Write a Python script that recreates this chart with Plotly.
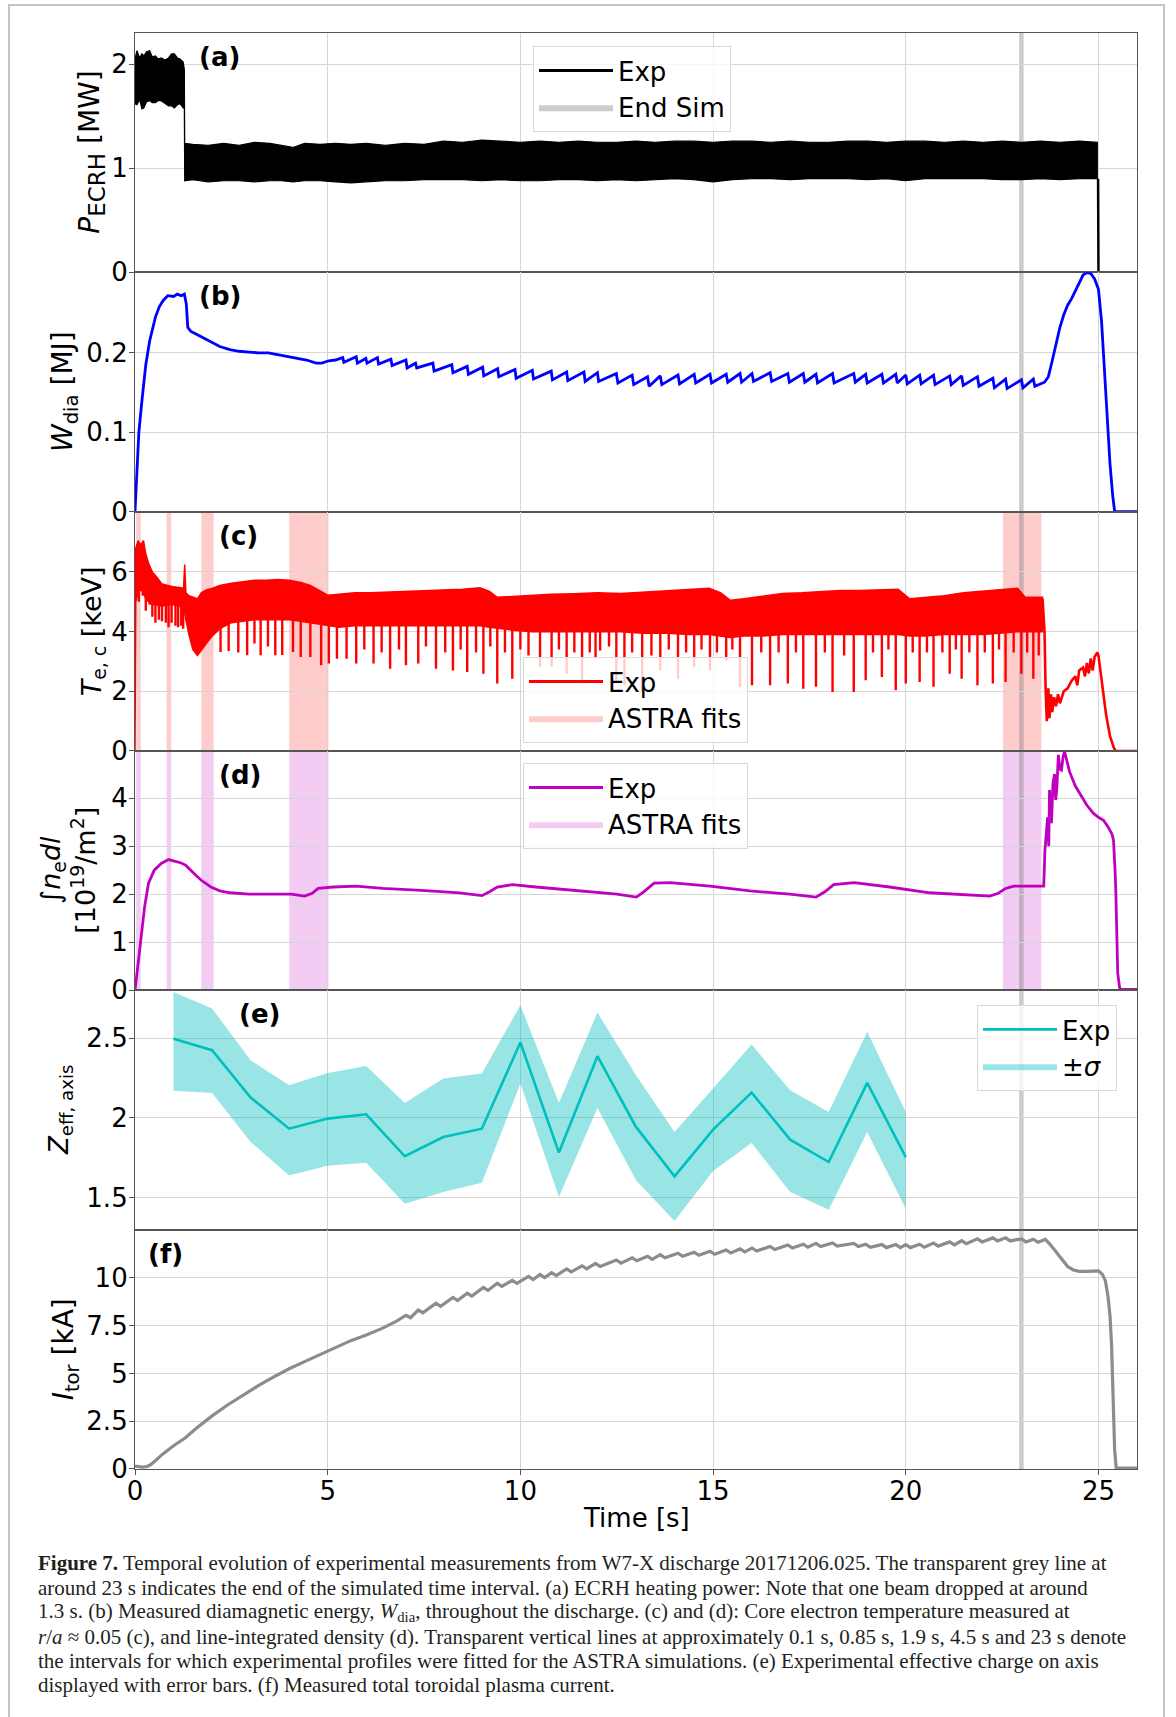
import numpy as np
import plotly.graph_objects as go
from plotly.subplots import make_subplots

# ---------------- data ----------------
# (a) ECRH power envelope of the dense signal [MW]
a_t  = [0.00, 0.05, 0.12, 0.18, 0.23, 0.30, 0.38, 0.45, 0.53, 0.60, 0.68, 0.78, 0.87, 0.95, 1.02, 1.10, 1.17, 1.25, 1.28,
        1.29, 1.50, 1.90, 2.30, 2.70, 3.10, 3.50, 3.80, 4.10, 4.40, 4.80, 5.20, 5.60, 6.00, 6.50, 7.00, 7.50, 8.00,
        8.50, 9.00, 9.50, 10.0, 10.5, 11.0, 11.5, 12.0, 12.5, 13.0, 13.5, 14.0, 14.5, 15.0, 15.5, 16.0, 16.5, 17.0,
        17.5, 18.0, 18.5, 19.0, 19.5, 20.0, 20.5, 21.0, 21.5, 22.0, 22.5, 23.0, 23.5, 24.0, 24.5, 24.97]
a_hi = [2.05, 2.13, 2.06, 2.10, 2.08, 2.12, 2.13, 2.07, 2.08, 2.05, 2.06, 2.04, 2.06, 2.10, 2.10, 2.06, 2.05, 2.02, 1.95,
        1.24, 1.23, 1.22, 1.24, 1.22, 1.25, 1.24, 1.22, 1.20, 1.24, 1.23, 1.24, 1.23, 1.24, 1.22, 1.24, 1.23, 1.26,
        1.25, 1.27, 1.26, 1.25, 1.26, 1.25, 1.26, 1.25, 1.25, 1.26, 1.25, 1.26, 1.26, 1.25, 1.26, 1.26, 1.25, 1.26,
        1.25, 1.25, 1.26, 1.26, 1.25, 1.26, 1.26, 1.25, 1.26, 1.25, 1.26, 1.25, 1.26, 1.25, 1.26, 1.25]
a_lo = [1.62, 1.61, 1.66, 1.57, 1.58, 1.64, 1.65, 1.63, 1.63, 1.65, 1.65, 1.62, 1.60, 1.60, 1.58, 1.61, 1.62, 1.58, 1.58,
        0.88, 0.89, 0.87, 0.88, 0.88, 0.87, 0.88, 0.88, 0.87, 0.88, 0.88, 0.87, 0.86, 0.87, 0.88, 0.88, 0.89, 0.89,
        0.89, 0.88, 0.89, 0.88, 0.88, 0.89, 0.89, 0.88, 0.89, 0.88, 0.89, 0.90, 0.89, 0.87, 0.89, 0.90, 0.90, 0.89,
        0.90, 0.90, 0.90, 0.89, 0.90, 0.88, 0.90, 0.90, 0.90, 0.90, 0.89, 0.89, 0.90, 0.89, 0.90, 0.90]
a_tail_t = [24.99, 25.00, 26.0]
a_tail_v = [0.90, 0.00, 0.00]

# (b) diamagnetic energy [MJ]
b_t = [0.00, 0.05, 0.10, 0.18, 0.28, 0.38, 0.53, 0.63, 0.73, 0.85, 1.00, 1.10, 1.20, 1.28, 1.33, 1.37, 1.45, 1.57,
       1.80, 1.97, 2.20, 2.46, 2.70, 2.96, 3.20, 3.46, 3.70, 3.95, 4.20, 4.45, 4.70, 4.85, 5.03, 5.20,
       5.39, 5.42, 5.74, 5.77, 5.99, 6.02, 6.29, 6.32, 6.64, 6.67, 7.03, 7.06, 7.28, 7.31, 7.73, 7.76,
       8.22, 8.25, 8.62, 8.65, 9.02, 9.05, 9.41, 9.44, 9.86, 9.89, 10.31, 10.34, 10.80, 10.83, 11.20, 11.23,
       11.65, 11.68, 12.00, 12.03, 12.49, 12.53, 12.90, 12.94, 13.30, 13.34, 13.63, 13.67, 14.09, 14.13,
       14.51, 14.55, 14.92, 14.96, 15.34, 15.38, 15.70, 15.74, 16.01, 16.05, 16.48, 16.52, 16.94, 16.98,
       17.34, 17.38, 17.67, 17.71, 18.10, 18.14, 18.65, 18.69, 18.96, 19.00, 19.38, 19.42, 19.74, 19.78,
       20.00, 20.04, 20.36, 20.40, 20.72, 20.76, 21.14, 21.18, 21.45, 21.49, 21.86, 21.90, 22.26, 22.30,
       22.59, 22.63, 23.00, 23.04, 23.31, 23.35, 23.60, 23.70, 23.80, 23.90, 24.00, 24.10, 24.20, 24.30,
       24.40, 24.50, 24.60, 24.70, 24.80, 24.90, 25.00, 25.08, 25.15, 25.22, 25.30, 25.37, 25.42, 26.0]
b_v = [0.000, 0.060, 0.100, 0.140, 0.185, 0.215, 0.245, 0.258, 0.266, 0.272, 0.271, 0.274, 0.272, 0.274, 0.262, 0.232, 0.227, 0.224,
       0.218, 0.213, 0.208, 0.204, 0.202, 0.201, 0.200, 0.200, 0.198, 0.196, 0.194, 0.191, 0.187, 0.187, 0.190, 0.191,
       0.194, 0.188, 0.195, 0.187, 0.193, 0.187, 0.194, 0.186, 0.192, 0.184, 0.191, 0.181, 0.187, 0.181, 0.187, 0.177,
       0.185, 0.175, 0.183, 0.173, 0.182, 0.171, 0.180, 0.170, 0.179, 0.168, 0.178, 0.167, 0.177, 0.166, 0.176, 0.165,
       0.176, 0.164, 0.175, 0.164, 0.174, 0.162, 0.172, 0.160, 0.170, 0.158, 0.171, 0.160, 0.172, 0.161,
       0.173, 0.162, 0.173, 0.162, 0.173, 0.163, 0.174, 0.163, 0.174, 0.164, 0.175, 0.164, 0.174, 0.163,
       0.174, 0.163, 0.173, 0.162, 0.174, 0.162, 0.174, 0.163, 0.173, 0.162, 0.173, 0.162, 0.173, 0.162,
       0.172, 0.161, 0.172, 0.161, 0.172, 0.160, 0.171, 0.160, 0.171, 0.159, 0.170, 0.158, 0.168, 0.156,
       0.167, 0.155, 0.166, 0.156, 0.167, 0.158, 0.163, 0.170, 0.190, 0.210, 0.232, 0.248, 0.260, 0.268,
       0.278, 0.290, 0.298, 0.301, 0.300, 0.293, 0.280, 0.240, 0.180, 0.120, 0.060, 0.020, 0.000, 0.000]

# (c) core electron temperature [keV]: band envelope, sawtooth crash minima, post-collapse trace
c_t  = [0.00, 0.02, 0.08, 0.15, 0.22, 0.28, 0.35, 0.45, 0.55, 0.70, 0.85, 1.00, 1.15, 1.26, 1.29, 1.32, 1.40, 1.50,
        1.62, 1.72, 1.85, 2.00, 2.20, 2.50, 2.80, 3.10, 3.40, 3.70, 4.00, 4.30, 4.55, 4.75, 5.00, 5.30, 5.70,
        6.10, 6.50, 7.00, 7.50, 8.00, 8.50, 8.95, 9.20, 9.40, 9.80, 10.30, 10.80, 11.40, 12.00, 12.60, 13.20,
        13.80, 14.40, 14.90, 15.20, 15.45, 15.80, 16.30, 16.80, 17.30, 17.80, 18.30, 18.80, 19.30, 19.80,
        20.10, 20.50, 21.00, 21.50, 22.00, 22.50, 22.90, 23.10, 23.55]
c_hi = [0.00, 6.80, 7.05, 6.90, 7.05, 6.60, 6.30, 6.00, 5.85, 5.60, 5.55, 5.50, 5.48, 5.45, 6.25, 5.30, 5.20, 5.15,
        5.10, 5.30, 5.40, 5.45, 5.55, 5.62, 5.68, 5.72, 5.72, 5.75, 5.72, 5.65, 5.55, 5.40, 5.22, 5.25, 5.30,
        5.30, 5.32, 5.35, 5.35, 5.38, 5.42, 5.47, 5.35, 5.15, 5.18, 5.20, 5.25, 5.27, 5.30, 5.28, 5.32,
        5.36, 5.40, 5.45, 5.30, 5.05, 5.10, 5.20, 5.28, 5.30, 5.35, 5.38, 5.38, 5.40, 5.42,
        5.10, 5.15, 5.20, 5.30, 5.35, 5.40, 5.45, 5.15, 5.15]
c_lo = [0.00, 5.00, 5.30, 5.40, 5.30, 5.10, 5.00, 4.90, 4.90, 4.85, 4.90, 4.90, 4.85, 4.80, 4.60, 4.40, 3.90, 3.40,
        3.20, 3.35, 3.60, 3.85, 4.10, 4.30, 4.35, 4.40, 4.40, 4.40, 4.40, 4.35, 4.30, 4.25, 4.20, 4.15, 4.20,
        4.20, 4.20, 4.20, 4.20, 4.20, 4.20, 4.20, 4.15, 4.10, 4.05, 4.00, 4.00, 4.00, 4.00, 4.00, 3.95,
        3.95, 3.90, 3.90, 3.85, 3.80, 3.85, 3.85, 3.90, 3.90, 3.90, 3.90, 3.90, 3.90, 3.90,
        3.85, 3.85, 3.90, 3.90, 3.90, 3.95, 4.00, 4.00, 4.00]
c_spk_t = [0.10, 0.20, 0.28, 0.38, 0.45, 0.53, 0.62, 0.70, 0.80, 0.87, 0.95, 1.05, 1.12, 1.20, 1.25,
           2.22, 2.43, 2.68, 2.91, 3.10, 3.26, 3.45, 3.64, 3.82, 4.10, 4.30, 4.55, 4.83, 5.03, 5.24, 5.49,
           5.74, 5.95, 6.19, 6.40, 6.62, 6.85, 7.03, 7.35, 7.55, 7.81, 8.05, 8.25, 8.45, 8.62, 8.85, 9.04,
           9.22, 9.40, 9.60, 9.79, 10.00, 10.21, 10.51, 10.81, 11.00, 11.20, 11.40, 11.60, 11.80, 11.95,
           12.07, 12.30, 12.49, 12.70, 12.90, 13.16, 13.40, 13.63, 13.85, 14.09, 14.30, 14.51, 14.70, 14.92,
           15.10, 15.34, 15.50, 15.70, 16.01, 16.25, 16.48, 16.70, 16.94, 17.15, 17.34, 17.67, 17.90, 18.10,
           18.40, 18.65, 18.96, 19.15, 19.38, 19.55, 19.74, 20.00, 20.18, 20.36, 20.55, 20.72, 20.95, 21.14,
           21.30, 21.45, 21.65, 21.86, 22.05, 22.26, 22.42, 22.59, 22.80, 23.00, 23.15, 23.31, 23.45]
c_spk_v = [5.00, 5.20, 4.70, 4.90, 4.50, 4.30, 4.40, 4.35, 4.30, 4.15, 4.30, 4.20, 4.15, 4.20, 4.10,
           3.32, 3.35, 3.30, 3.21, 3.60, 3.21, 3.50, 3.21, 3.22, 3.32, 3.15, 3.15, 2.87, 2.93, 3.09, 3.09,
           2.93, 3.40, 2.93, 3.30, 2.76, 3.40, 2.87, 2.93, 3.50, 2.76, 3.30, 2.70, 3.40, 2.65, 3.30, 2.59,
           3.50, 2.26, 3.30, 2.42, 3.40, 3.20, 2.82, 2.82, 3.40, 2.59, 3.30, 2.26, 3.30, 3.10,
           3.37, 3.50, 2.37, 2.20, 3.30, 1.98, 3.20, 2.70, 3.40, 2.42, 3.30, 2.82, 3.40, 2.70,
           3.30, 3.04, 3.40, 2.15, 2.20, 3.30, 2.20, 3.30, 2.26, 3.30, 2.09, 2.15, 3.30, 1.98,
           3.20, 1.98, 2.37, 3.30, 2.48, 3.40, 2.04, 2.26, 3.30, 2.31, 3.30, 2.15, 3.30, 2.59,
           3.40, 2.42, 3.30, 2.20, 3.30, 2.26, 3.40, 2.31, 3.30, 2.59, 3.30, 2.42, 3.20]
c_late_t = [23.55, 23.60, 23.63, 23.66, 23.70, 23.73, 23.77, 23.80, 23.85, 23.90, 23.95, 24.00, 24.10, 24.20,
            24.30, 24.40, 24.45, 24.50, 24.60, 24.65, 24.70, 24.75, 24.80, 24.85, 24.90, 24.97, 25.00, 25.10,
            25.20, 25.30, 25.40, 25.45, 26.00]
c_late_v = [5.10, 4.00, 2.00, 1.00, 2.10, 1.10, 1.90, 1.30, 1.80, 1.50, 1.90, 1.60, 2.00, 2.10,
            2.35, 2.50, 2.20, 2.70, 2.80, 2.50, 2.95, 2.60, 3.10, 2.70, 3.15, 3.30, 3.20, 2.20,
            1.20, 0.50, 0.10, 0.00, 0.00]

# (d) line-integrated density [1e19 m^-2]
d_t = [0.00, 0.08, 0.15, 0.25, 0.35, 0.50, 0.68, 0.87, 1.07, 1.20, 1.32, 1.47, 1.60, 1.72, 1.85, 1.97, 2.20, 2.46,
       2.96, 3.46, 4.05, 4.40, 4.60, 4.75, 5.15, 5.74, 6.43, 7.43, 8.42, 9.00, 9.20, 9.40, 9.80, 10.40, 11.81,
       12.50, 13.01, 13.20, 13.47, 13.89, 14.92, 15.96, 16.99, 17.67, 17.90, 18.13, 18.66, 19.58, 20.62,
       21.66, 22.18, 22.40, 22.59, 22.80, 23.58, 23.61, 23.65, 23.68, 23.71, 23.73, 23.76, 23.78, 23.82,
       23.86, 23.89, 23.92, 23.96, 24.00, 24.04, 24.08, 24.12, 24.18, 24.25, 24.40, 24.56, 24.70, 24.87,
       25.00, 25.13, 25.25, 25.35, 25.39, 25.43, 25.45, 25.50, 25.55, 25.58, 26.00]
d_v = [0.00, 0.50, 1.04, 1.74, 2.23, 2.50, 2.64, 2.72, 2.67, 2.65, 2.60, 2.47, 2.38, 2.29, 2.21, 2.15, 2.07, 2.03,
       2.00, 2.00, 2.00, 1.96, 2.02, 2.12, 2.15, 2.17, 2.12, 2.08, 2.03, 1.97, 2.05, 2.15, 2.20, 2.15, 2.05,
       2.00, 1.94, 2.05, 2.23, 2.24, 2.17, 2.07, 2.00, 1.94, 2.05, 2.20, 2.24, 2.15, 2.03,
       1.98, 1.96, 2.02, 2.12, 2.17, 2.17, 2.90, 3.40, 3.60, 3.00, 4.17, 3.70, 3.48, 4.30,
       4.50, 3.96, 4.20, 4.90, 4.60, 4.58, 4.85, 4.97, 4.80, 4.55, 4.25, 4.03, 3.85, 3.68,
       3.60, 3.54, 3.40, 3.25, 3.13, 2.50, 2.08, 0.35, 0.05, 0.02, 0.02]

# ASTRA fit intervals [s]
astra_start = [0.03, 0.82, 1.72, 4.00, 22.52]
astra_end   = [0.15, 0.94, 2.04, 5.02, 23.52]
end_sim_t = 23.0

# (e) effective charge on axis
e_t  = [1, 2, 3, 4, 5, 6, 7, 8, 9, 10, 11, 12, 13, 14, 15, 16, 17, 18, 19, 20]
e_v  = [2.496, 2.425, 2.128, 1.933, 1.996, 2.023, 1.760, 1.881, 1.933, 2.473,
        1.783, 2.387, 1.944, 1.634, 1.927, 2.159, 1.864, 1.724, 2.220, 1.755]
e_hi = [2.790, 2.686, 2.362, 2.205, 2.282, 2.326, 2.094, 2.247, 2.278, 2.707,
        2.094, 2.661, 2.268, 1.912, 2.184, 2.460, 2.174, 2.038, 2.540, 2.038]
e_lo = [2.170, 2.157, 1.850, 1.640, 1.700, 1.720, 1.463, 1.536, 1.594, 2.216,
        1.505, 2.063, 1.609, 1.354, 1.668, 1.843, 1.536, 1.425, 1.912, 1.431]

# (f) toroidal current [kA]
f_t = [0.00, 0.10, 0.20, 0.30, 0.40, 0.50, 0.70, 1.00, 1.30, 1.60, 2.00, 2.40, 2.80, 3.20, 3.60, 4.00, 4.40, 4.80,
       5.20, 5.60, 6.00, 6.40, 6.80, 7.03, 7.15, 7.35, 7.47, 7.81, 7.93, 8.25, 8.37, 8.62, 8.74, 9.04, 9.16,
       9.40, 9.52, 9.79, 9.91, 10.21, 10.33, 10.51, 10.63, 10.81, 10.93, 11.20, 11.32, 11.60, 11.72, 11.95, 12.07,
       12.49, 12.61, 12.90, 13.02, 13.30, 13.42, 13.63, 13.75, 14.09, 14.21, 14.51, 14.63, 14.92, 15.04, 15.34,
       15.46, 15.70, 15.82, 16.01, 16.13, 16.48, 16.60, 16.94, 17.06, 17.34, 17.46, 17.67, 17.79, 18.10, 18.22,
       18.65, 18.77, 18.96, 19.08, 19.38, 19.50, 19.74, 19.86, 20.00, 20.12, 20.36, 20.48, 20.72, 20.84, 21.14,
       21.26, 21.45, 21.57, 21.86, 21.98, 22.26, 22.38, 22.59, 22.71, 23.00, 23.12, 23.31, 23.43, 23.62, 23.75,
       23.90, 24.05, 24.20, 24.35, 24.50, 24.70, 24.90, 25.00, 25.10, 25.18, 25.25, 25.30, 25.34, 25.38, 25.42,
       25.46, 26.00]
f_v = [0.15, 0.12, 0.10, 0.12, 0.22, 0.38, 0.75, 1.22, 1.62, 2.15, 2.78, 3.35, 3.88, 4.36, 4.82, 5.25, 5.62, 5.98,
       6.35, 6.72, 7.02, 7.35, 7.75, 8.05, 7.92, 8.32, 8.18, 8.68, 8.52, 8.98, 8.82, 9.20, 9.05, 9.50, 9.35,
       9.72, 9.56, 9.88, 9.72, 10.08, 9.92, 10.18, 10.02, 10.28, 10.12, 10.48, 10.32, 10.64, 10.48, 10.76, 10.60,
       10.94, 10.78, 11.06, 10.90, 11.14, 10.98, 11.22, 11.06, 11.30, 11.14, 11.35, 11.19, 11.40, 11.24, 11.47,
       11.31, 11.53, 11.37, 11.57, 11.41, 11.65, 11.49, 11.73, 11.57, 11.77, 11.61, 11.81, 11.65, 11.83, 11.67,
       11.81, 11.65, 11.77, 11.61, 11.75, 11.59, 11.75, 11.59, 11.75, 11.59, 11.77, 11.61, 11.83, 11.67, 11.89,
       11.73, 11.95, 11.79, 12.05, 11.89, 12.10, 11.94, 12.10, 11.94, 12.05, 11.89, 12.03, 11.87, 12.02, 11.75,
       11.35, 10.95, 10.60, 10.42, 10.35, 10.35, 10.38, 10.37, 10.20, 9.85, 9.00, 8.00, 6.50, 4.00, 1.00,
       0.05, 0.05]

x_ticks = [0, 5, 10, 15, 20, 25]

# ---------------- figure ----------------
FONT = "DejaVu Sans"
FS = 26
W, H = 1176, 1717
ML, MR, MT, MB = 135, 39, 33, 248
pw = W - ML - MR
ph = H - MT - MB


def px_to_paper_x(px):
    return (px - ML) / pw


def px_to_paper_y(py):
    return (H - MB - py) / ph


fig = make_subplots(rows=6, cols=1, shared_xaxes=True, vertical_spacing=0)

RED = "#ff0000"
MAG = "#bf00bf"
CYAN = "#00bfbf"

# (a)
fig.add_trace(go.Scatter(x=a_t + a_t[::-1], y=a_hi + a_lo[::-1], fill="toself", fillcolor="black",
                         mode="lines", line=dict(color="black", width=1.2), showlegend=False, hoverinfo="skip"),
              row=1, col=1)
fig.add_trace(go.Scatter(x=a_tail_t, y=a_tail_v, mode="lines", line=dict(color="black", width=2.5),
                         showlegend=False), row=1, col=1)
fig.add_trace(go.Scatter(x=[None], y=[None], mode="lines", line=dict(color="black", width=3), name="Exp",
                         legend="legend"), row=1, col=1)
fig.add_trace(go.Scatter(x=[None], y=[None], mode="lines", fill="toself", fillcolor="rgba(128,128,128,0.4)",
                         line=dict(width=0), name="End Sim", legend="legend"), row=1, col=1)

# (b)
fig.add_trace(go.Scatter(x=b_t, y=b_v, mode="lines", line=dict(color="#0000ff", width=2.8), showlegend=False),
              row=2, col=1)

# (c)
fig.add_trace(go.Scatter(x=c_t + c_t[::-1], y=c_hi + c_lo[::-1], fill="toself", fillcolor=RED,
                         mode="lines", line=dict(color=RED, width=1.5), showlegend=False, hoverinfo="skip"),
              row=3, col=1)
lo_at = np.interp(c_spk_t, c_t, c_lo)
sx, sy = [], []
for t, v, l in zip(c_spk_t, c_spk_v, lo_at):
    sx += [t, t, None]
    sy += [l + 0.3, v, None]
fig.add_trace(go.Scatter(x=sx, y=sy, mode="lines", line=dict(color=RED, width=2.4), showlegend=False),
              row=3, col=1)
fig.add_trace(go.Scatter(x=c_late_t, y=c_late_v, mode="lines", line=dict(color=RED, width=2.6), showlegend=False),
              row=3, col=1)
fig.add_trace(go.Scatter(x=[None], y=[None], mode="lines", line=dict(color=RED, width=3), name="Exp",
                         legend="legend2"), row=3, col=1)
fig.add_trace(go.Scatter(x=[None], y=[None], mode="lines", fill="toself", fillcolor="rgba(255,0,0,0.2)",
                         line=dict(width=0), name="ASTRA fits", legend="legend2"), row=3, col=1)

# (d)
fig.add_trace(go.Scatter(x=d_t, y=d_v, mode="lines", line=dict(color=MAG, width=2.8), showlegend=False),
              row=4, col=1)
fig.add_trace(go.Scatter(x=[None], y=[None], mode="lines", line=dict(color=MAG, width=3), name="Exp",
                         legend="legend3"), row=4, col=1)
fig.add_trace(go.Scatter(x=[None], y=[None], mode="lines", fill="toself", fillcolor="rgba(191,0,191,0.2)",
                         line=dict(width=0), name="ASTRA fits", legend="legend3"), row=4, col=1)

# (e)
fig.add_trace(go.Scatter(x=e_t + e_t[::-1], y=e_hi + e_lo[::-1], fill="toself", fillcolor="rgba(0,191,191,0.4)",
                         mode="lines", line=dict(width=0), showlegend=False, hoverinfo="skip"), row=5, col=1)
fig.add_trace(go.Scatter(x=e_t, y=e_v, mode="lines", line=dict(color=CYAN, width=2.6), name="Exp",
                         legend="legend4"), row=5, col=1)
fig.add_trace(go.Scatter(x=[None], y=[None], mode="lines", fill="toself", fillcolor="rgba(0,191,191,0.4)",
                         line=dict(width=0), name="±<i>σ</i>", legend="legend4"), row=5, col=1)

# (f)
fig.add_trace(go.Scatter(x=f_t, y=f_v, mode="lines", line=dict(color="#8c8c8c", width=3.2), showlegend=False),
              row=6, col=1)

# ---------------- axes ----------------
ytitles = ["<i>P</i><sub><span style='font-size:23px'>ECRH</span></sub> [MW]",
           "<i>W</i><sub>dia</sub> [MJ]", "<i>T</i><sub>e, c</sub> [keV]",
           "∫<i>n</i><sub>e</sub><i>dl</i><br>[10<sup>19</sup>/m<sup>2</sup>]", "<i>Z</i><sub>eff, axis</sub>",
           "<i>I</i><sub>tor</sub> [kA]"]
ytitle_x = [92, 64, 93, 68, 60, 65]
ytitle_fs = [28, 28, 27, 27, 26, 28]
yranges = [[0, 2.3], [0, 0.3014], [0, 8.02], [0, 4.98], [1.30, 2.80], [0, 12.53]]
yticks = [[0, 1, 2], [0, 0.1, 0.2], [0, 2, 4, 6], [0, 1, 2, 3, 4], [1.5, 2, 2.5], [0, 2.5, 5, 7.5, 10]]
yticktext = [["0", "1", "2"], ["0", "0.1", "0.2"], ["0", "2", "4", "6"], ["0", "1", "2", "3", "4"],
             ["1.5", "2", "2.5"], ["0", "2.5", "5", "7.5", "10"]]

for i in range(6):
    r = i + 1
    fig.update_xaxes(range=[0, 26], tickvals=x_ticks, showgrid=True, gridcolor="#d6d6d6", gridwidth=1,
                     showline=True, linecolor="#555555", linewidth=1.2, mirror=True, zeroline=False,
                     ticks="outside" if r == 6 else "", ticklen=5, tickcolor="#555555",
                     showticklabels=(r == 6), tickfont=dict(family=FONT, size=FS, color="black"),
                     ticklabelstandoff=-6, row=r, col=1)
    fig.update_yaxes(range=yranges[i], tickvals=yticks[i], ticktext=yticktext[i], showgrid=True,
                     gridcolor="#d6d6d6", gridwidth=1, showline=True, linecolor="#555555", linewidth=1.2,
                     mirror=True, zeroline=False, ticks="outside", ticklen=5, tickcolor="#555555",
                     tickfont=dict(family=FONT, size=FS, color="black"), ticklabelstandoff=-4,
                     row=r, col=1)

# ---------------- shapes ----------------
shapes = []
for s0, s1 in zip(astra_start, astra_end):
    shapes.append(dict(type="rect", xref="x3", yref="y3 domain", x0=s0, x1=s1, y0=0, y1=1,
                       fillcolor="rgba(255,0,0,0.2)", line=dict(width=0), layer="below"))
    shapes.append(dict(type="rect", xref="x4", yref="y4 domain", x0=s0, x1=s1, y0=0, y1=1,
                       fillcolor="rgba(191,0,191,0.2)", line=dict(width=0), layer="below"))
shapes.append(dict(type="line", xref="x", yref="paper", x0=end_sim_t, x1=end_sim_t, y0=0, y1=1,
                   line=dict(color="rgba(128,128,128,0.4)", width=4.5), layer="below"))
# outer page frame
shapes.append(dict(type="rect", xref="paper", yref="paper",
                   x0=px_to_paper_x(9), x1=px_to_paper_x(1164), y0=px_to_paper_y(1760), y1=px_to_paper_y(5),
                   line=dict(color="#c4c4c4", width=2), fillcolor="rgba(0,0,0,0)", layer="below"))
fig.update_layout(shapes=shapes)

annotations = []
# ---------------- axis titles ----------------
for i in range(6):
    yc = (5.5 - i) / 6.0
    annotations.append(dict(text=ytitles[i], xref="paper", yref="paper", x=px_to_paper_x(ytitle_x[i]), y=yc,
                            xanchor="center", yanchor="middle", textangle=-90, showarrow=False,
                            font=dict(family=FONT, size=ytitle_fs[i], color="black")))
annotations.append(dict(text="Time [s]", xref="paper", yref="paper", x=0.5, y=px_to_paper_y(1518),
                        xanchor="center", yanchor="middle", showarrow=False,
                        font=dict(family=FONT, size=FS, color="black")))

# ---------------- panel labels ----------------
labels = ["(a)", "(b)", "(c)", "(d)", "(e)", "(f)"]
label_x = [1.62, 1.62, 2.13, 2.13, 2.64, 0.28]
for i in range(6):
    sfx = "" if i == 0 else str(i + 1)
    annotations.append(dict(text="<b>" + labels[i] + "</b>", xref="x" + sfx, yref="y" + sfx + " domain",
                            x=label_x[i], y=0.9, xanchor="left", yanchor="middle", showarrow=False,
                            font=dict(family=FONT, size=FS, color="black")))

# ---------------- caption ----------------
caption = [
    "<b>Figure 7.</b> Temporal evolution of experimental measurements from W7-X discharge 20171206.025. The transparent grey line at",
    "around 23 s indicates the end of the simulated time interval. (a) ECRH heating power: Note that one beam dropped at around",
    "1.3 s. (b) Measured diamagnetic energy, <i>W</i><sub>dia</sub>, throughout the discharge. (c) and (d): Core electron temperature measured at",
    "<i>r</i>/<i>a</i> ≈ 0.05 (c), and line-integrated density (d). Transparent vertical lines at approximately 0.1 s, 0.85 s, 1.9 s, 4.5 s and 23 s denote",
    "the intervals for which experimental profiles were fitted for the ASTRA simulations. (e) Experimental effective charge on axis",
    "displayed with error bars. (f) Measured total toroidal plasma current.",
]
cap_y = [1563, 1588, 1612, 1637, 1661, 1685]
for txt, yy in zip(caption, cap_y):
    annotations.append(dict(text=txt, xref="paper", yref="paper", x=px_to_paper_x(36), y=px_to_paper_y(yy),
                            xanchor="left", yanchor="middle", showarrow=False, align="left",
                            font=dict(family="Liberation Serif", size=21, color="#231f20")))
fig.update_layout(annotations=annotations)


# ---------------- legends ----------------
def leg(xpx, ypx):
    return dict(x=px_to_paper_x(xpx), y=px_to_paper_y(ypx), xanchor="left", yanchor="top",
                bgcolor="rgba(255,255,255,0.8)", bordercolor="#d9d9d9", borderwidth=1,
                font=dict(family=FONT, size=FS, color="black"), itemwidth=74, tracegroupgap=0)


fig.update_layout(
    width=W, height=H,
    margin=dict(l=ML, r=MR, t=MT, b=MB),
    paper_bgcolor="white", plot_bgcolor="white",
    font=dict(family=FONT, size=FS, color="black"),
    legend=leg(533, 46),
    legend2=leg(523, 657),
    legend3=leg(523, 763),
    legend4=leg(977, 1005),
)

fig.write_html("out.html", config={"displayModeBar": False},
               post_script="document.body.style.margin='0px';")
